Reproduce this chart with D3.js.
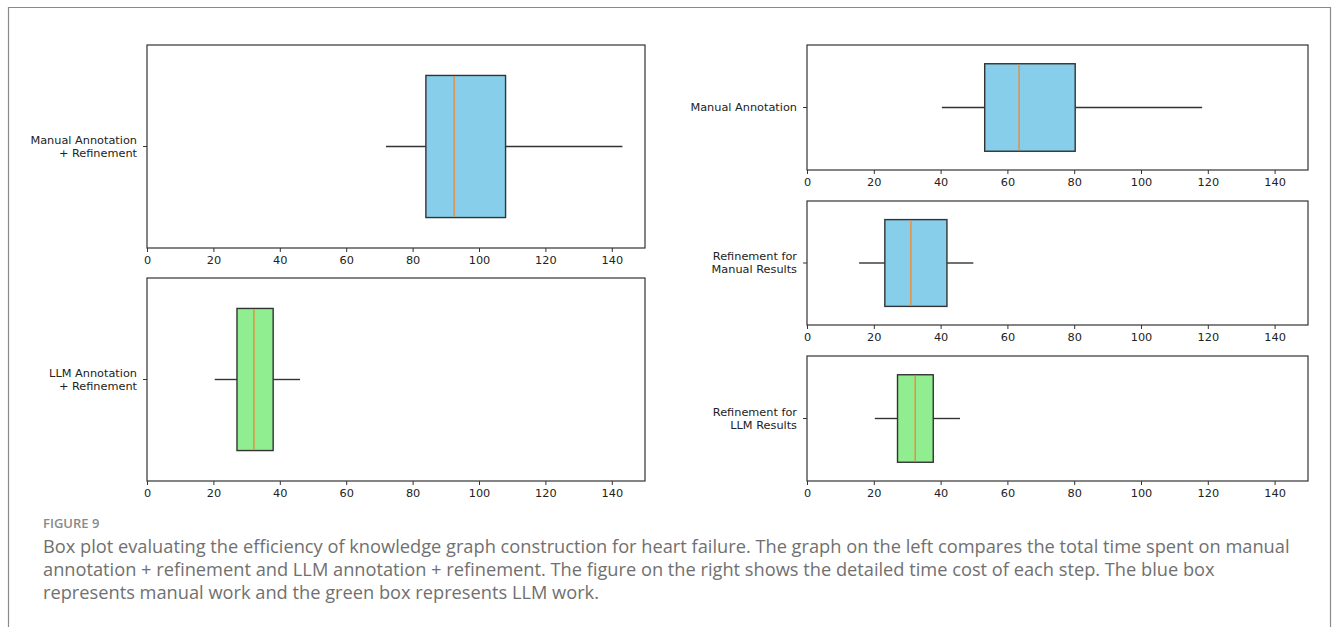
<!DOCTYPE html>
<html>
<head>
<meta charset="utf-8">
<script src="https://cdn.jsdelivr.net/npm/d3@7"></script>
<style>
  html, body { margin: 0; padding: 0; background: #fff; }
  svg { display: block; }
</style>
</head>
<body>
<svg id="chart" width="1333" height="627"></svg>
<script>
// ==================== DATA ====================
const boxLabels = [
    ["Manual Annotation", "+ Refinement"],
    ["LLM Annotation", "+ Refinement"],
    ["Manual Annotation"],
    ["Refinement for", "Manual Results"],
    ["Refinement for", "LLM Results"]
];
const whiskerLow  = [72, 20.4, 40.4, 15.6, 20.3];
const q1          = [84, 27.1, 53.2, 23.3, 27.1];
const medians     = [92.5, 32.2, 63.5, 31.1, 32.4];
const q3          = [108, 38, 80.3, 41.9, 37.8];
const whiskerHigh = [143.2, 46.1, 118.3, 49.8, 45.8];
const boxKind     = ["manual", "llm", "manual", "manual", "llm"];
const xTicks      = [0, 20, 40, 60, 80, 100, 120, 140];
const xDomain     = [0, 150];

const captionTitle = "FIGURE 9";
const captionLines = [
    "Box plot evaluating the efficiency of knowledge graph construction for heart failure. The graph on the left compares the total time spent on manual",
    "annotation + refinement and LLM annotation + refinement. The figure on the right shows the detailed time cost of each step. The blue box",
    "represents manual work and the green box represents LLM work."
];

// ==================== LAYOUT ====================
const frames = [
    { x: 147, y: 45,  w: 498, h: 203 },
    { x: 147, y: 278, w: 498, h: 203 },
    { x: 807, y: 45,  w: 501, h: 125 },
    { x: 807, y: 201, w: 501, h: 124 },
    { x: 807, y: 356, w: 501, h: 125 }
];
const fillColor = { manual: "#87ceeb", llm: "#90ee90" };
const edge = "#333";
const tickFont = "DejaVu Sans, sans-serif";

const svg = d3.select("#chart");

// outer figure border (open at the bottom, page continues)
svg.append("path")
    .attr("d", "M8.5,627 L8.5,7.5 L1330.5,7.5 L1330.5,627")
    .attr("fill", "none").attr("stroke", "#8a8a8a").attr("stroke-width", 1.2);

// ==================== PANELS ====================
frames.forEach((f, i) => {
    const g = svg.append("g").attr("transform", `translate(${f.x},${f.y})`);

    const x = d3.scaleLinear().domain(xDomain).range([0, f.w]);
    const y = d3.scaleBand().domain(["box"]).range([0, f.h]).paddingInner(0).paddingOuter(0.15);
    // box thickness = 0.7 of the axes height (matplotlib widths=0.7)
    const yc = y("box") + y.bandwidth() / 2;
    const half = f.h * 0.35;

    // whiskers
    g.append("line")
        .attr("x1", x(whiskerLow[i])).attr("x2", x(q1[i]))
        .attr("y1", yc).attr("y2", yc)
        .attr("stroke", edge).attr("stroke-width", 1.4);
    g.append("line")
        .attr("x1", x(q3[i])).attr("x2", x(whiskerHigh[i]))
        .attr("y1", yc).attr("y2", yc)
        .attr("stroke", edge).attr("stroke-width", 1.4);

    // box
    g.append("rect")
        .attr("x", x(q1[i])).attr("y", yc - half)
        .attr("width", x(q3[i]) - x(q1[i])).attr("height", half * 2)
        .attr("fill", fillColor[boxKind[i]])
        .attr("stroke", edge).attr("stroke-width", 1.4);

    // median
    g.append("line")
        .attr("x1", x(medians[i])).attr("x2", x(medians[i]))
        .attr("y1", yc - half + 0.7).attr("y2", yc + half - 0.7)
        .attr("stroke", "#ee8a36").attr("stroke-width", 1.4);

    // spines
    g.append("rect")
        .attr("width", f.w).attr("height", f.h)
        .attr("fill", "none").attr("stroke", edge).attr("stroke-width", 1.2);

    // x axis
    const xa = g.append("g")
        .attr("transform", `translate(0,${f.h})`)
        .call(d3.axisBottom(x).tickValues(xTicks).tickSize(4).tickPadding(3.5).tickFormat(d3.format("d")));
    xa.select(".domain").remove();
    xa.selectAll("line").attr("stroke", edge);
    xa.selectAll("text").attr("fill", "#222").style("font-family", tickFont).style("font-size", "11.3px");

    // y axis (single category tick)
    const ya = g.append("g")
        .call(d3.axisLeft(y).tickSize(4).tickFormat(""));
    ya.select(".domain").remove();
    ya.selectAll("line").attr("stroke", edge);

    const lines = boxLabels[i];
    const lh = 13;
    const t = g.append("text")
        .attr("text-anchor", "end")
        .attr("fill", "#222")
        .style("font-family", tickFont).style("font-size", "11.3px");
    lines.forEach((s, k) => {
        t.append("tspan")
            .attr("x", -10)
            .attr("y", yc + (k - (lines.length - 1) / 2) * lh)
            .attr("dy", "0.35em")
            .text(s);
    });
});

// ==================== CAPTION ====================
svg.append("text")
    .attr("x", 43).attr("y", 528)
    .attr("fill", "#8a8a8a")
    .style("font-family", "Open Sans, sans-serif")
    .style("font-size", "13px").style("font-weight", 600)
    .text(captionTitle);

const cap = svg.append("g")
    .attr("fill", "#707070")
    .style("font-family", "Open Sans, sans-serif")
    .style("font-size", "17px");
const capNodes = captionLines.map((s, k) =>
    cap.append("text").attr("x", 43).attr("y", 553 + k * 23).text(s)
);
// fit first line to the reference width
const w0 = capNodes[0].node().getComputedTextLength();
const fs = 17 * 1247 / w0;
cap.style("font-size", fs.toFixed(2) + "px");
</script>
</body>
</html>
